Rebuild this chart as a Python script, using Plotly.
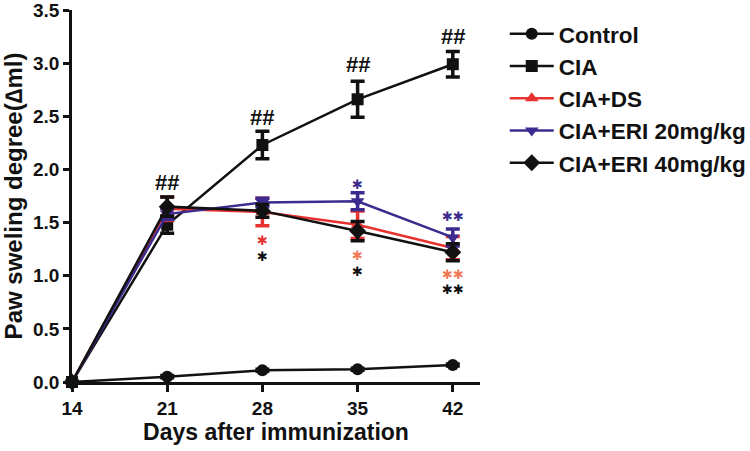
import plotly.graph_objects as go

days = [14, 21, 28, 35, 42]
tick_labels = ["14", "21", "28", "35", "42"]

control = [0.0, 0.05, 0.11, 0.12, 0.16]
control_err = [0.0, 0.01, 0.01, 0.01, 0.01]
cia = [0.0, 1.48, 2.23, 2.66, 2.99]
cia_err = [0.0, 0.08, 0.13, 0.17, 0.12]
cia_ds = [0.0, 1.63, 1.60, 1.48, 1.26]
cia_ds_err = [0.0, 0.11, 0.13, 0.13, 0.11]
eri20 = [0.0, 1.58, 1.69, 1.70, 1.36]
eri20_err = [0.0, 0.05, 0.04, 0.08, 0.08]
eri40 = [0.0, 1.65, 1.61, 1.42, 1.22]
eri40_err = [0.0, 0.09, 0.06, 0.09, 0.08]

hash_days = [21, 28, 35, 42]
hash_y = [1.88, 2.49, 2.99, 3.25]

star_days = [28, 28, 35, 35, 35, 42, 42, 42]
star_y = [1.33, 1.18, 1.86, 1.19, 1.04, 1.56, 1.01, 0.87]
star_text = ["\u2731", "\u2731", "\u2731", "\u2731", "\u2731", "\u2731\u2731", "\u2731\u2731", "\u2731\u2731"]
star_colors = ["#e8322f", "#111111", "#3d2a8e", "#f07a5a", "#111111", "#3d2a8e", "#f07a5a", "#111111"]

names = ["Control", "CIA", "CIA+DS", "CIA+ERI 20mg/kg", "CIA+ERI 40mg/kg"]
series = [control, cia, cia_ds, eri20, eri40]
errors = [control_err, cia_err, cia_ds_err, eri20_err, eri40_err]
colors = ["#111111", "#111111", "#e8322f", "#3d2a8e", "#111111"]
symbols = ["circle", "square", "triangle-up", "triangle-down", "diamond"]
sizes = [12, 12, 12, 12, 13]

FONT = "Liberation Sans, Arial, sans-serif"

fig = go.Figure()
for name, ys, es, c, s, sz in zip(names, series, errors, colors, symbols, sizes):
    fig.add_trace(go.Scatter(
        x=days, y=ys, name=name, legendgroup=name, mode="lines+markers",
        line=dict(color=c, width=2.5),
        marker=dict(symbol=s, size=sz, color=c),
        error_y=dict(type="data", array=es, visible=True, color=c, thickness=3.5, width=7),
        cliponaxis=False,
    ))

for d, y in zip(hash_days, hash_y):
    fig.add_annotation(x=d, y=y, text="##", showarrow=False,
                       font=dict(family=FONT, size=22, color="#111111", weight="bold"))

for d, y, t, c in zip(star_days, star_y, star_text, star_colors):
    fig.add_annotation(x=d, y=y, text=t, showarrow=False,
                       font=dict(family="DejaVu Sans", size=13, color=c))

fig.update_layout(
    width=750, height=451,
    margin=dict(l=72, r=270, t=10, b=69, autoexpand=False),
    paper_bgcolor="white", plot_bgcolor="white",
    font=dict(family=FONT, size=18, color="#111111", weight="bold"),
    showlegend=True,
    legend=dict(xref="container", yref="container", x=0.673, y=0.972,
                xanchor="left", yanchor="top",
                font=dict(family=FONT, size=22.5, color="#111111", weight="bold"),
                bgcolor="rgba(0,0,0,0)", tracegroupgap=0, itemwidth=44),
    xaxis=dict(range=[14, 44], tickvals=days, ticktext=tick_labels, automargin=False,
               showgrid=False, zeroline=False, showline=True, linecolor="#111111",
               linewidth=2.5, ticks="outside", ticklen=7, tickwidth=2.5, tickcolor="#111111",
               tickfont=dict(family=FONT, size=19, weight="bold"), ticklabeloverflow="allow",
               title=dict(text="Days after immunization", standoff=6,
                          font=dict(family=FONT, size=23, weight="bold"))),
    yaxis=dict(range=[0, 3.5], dtick=0.5, tickformat=".1f", automargin=False,
               showgrid=False, zeroline=False, showline=True, linecolor="#111111",
               linewidth=2.5, ticks="outside", ticklen=6, tickwidth=2.5, tickcolor="#111111",
               tickfont=dict(family=FONT, size=19, weight="bold"), ticklabeloverflow="allow",
               title=dict(text="Paw sweling degree(\u2206ml)", standoff=4,
                          font=dict(family=FONT, size=24, weight="bold"))),
)

fig.write_html("out.html", config={"displayModeBar": False},
               post_script="document.body.style.margin='0';document.body.style.padding='0';")
